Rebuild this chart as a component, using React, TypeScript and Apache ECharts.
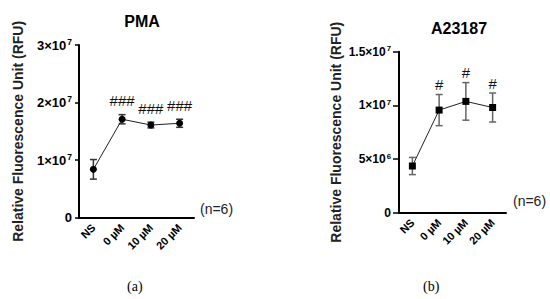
import React, { useEffect, useRef } from "react";
import * as echarts from "echarts";

const categories = ["NS", "0 µM", "10 µM", "20 µM"];

const pmaMean = [8.4e6, 1.71e7, 1.61e7, 1.64e7];
const pmaErr = [1.7e6, 0.8e6, 0.5e6, 0.7e6];
const pmaSig = ["", "###", "###", "###"];
const pmaTicks = [0, 1e7, 2e7, 3e7];

const aMean = [4.35e6, 9.56e6, 1.037e7, 9.8e6];
const aErr = [0.8e6, 1.45e6, 1.75e6, 1.35e6];
const aSig = ["", "#", "#", "#"];
const aTicks = [0, 5e6, 1e7, 1.5e7];

const FONT = "Liberation Sans, Arial, sans-serif";

function sciLabel(v: number): string {
  if (v === 0) return "{b|0}";
  const exp = Math.floor(Math.log10(v));
  const mant = +(v / Math.pow(10, exp)).toFixed(2);
  return `{b|${mant}×10}{s|${exp}}`;
}

function richSci(size: number) {
  return {
    b: { fontSize: size, fontWeight: "bold", color: "#000", fontFamily: FONT },
    s: { fontSize: size * 0.65, fontWeight: "bold", color: "#000", fontFamily: FONT, verticalAlign: "top", padding: [0, 0, Math.round(size * 0.5), 1] },
  };
}

function makeErrSeries(gridIdx: number, mean: number[], err: number[], sig: string[], color: string, offset: number) {
  return {
    type: "custom",
    xAxisIndex: gridIdx,
    yAxisIndex: gridIdx,
    z: 1,
    data: mean.map((m, i) => [i, m, err[i]]),
    renderItem: (params: any, api: any) => {
      const i = api.value(0);
      const m = api.value(1);
      const e = api.value(2);
      const s = sig[params.dataIndex];
      const top = api.coord([i, m + e]);
      const bot = api.coord([i, m - e]);
      const hw = 3.5;
      const st = { stroke: color, lineWidth: 1.5 };
      const children: any[] = [
        { type: "line", shape: { x1: top[0], y1: top[1], x2: bot[0], y2: bot[1] }, style: st },
        { type: "line", shape: { x1: top[0] - hw, y1: top[1], x2: top[0] + hw, y2: top[1] }, style: st },
        { type: "line", shape: { x1: bot[0] - hw, y1: bot[1], x2: bot[0] + hw, y2: bot[1] }, style: st },
      ];
      if (s) {
        children.push({
          type: "text",
          x: top[0],
          y: top[1] - offset,
          style: { text: s, align: "center", verticalAlign: "middle", fontSize: 15, fontFamily: FONT, fill: "#111" },
        });
      }
      return { type: "group", children };
    },
  };
}

function axisY(gridIdx: number, ticks: number[], labelSize: number, tickLen: number, margin: number) {
  return {
    type: "value",
    gridIndex: gridIdx,
    min: ticks[0],
    max: ticks[ticks.length - 1],
    interval: ticks[1] - ticks[0],
    name: "Relative Fluorescence Unit (RFU)",
    nameLocation: "middle",
    nameGap: gridIdx === 0 ? 54 : 56,
    nameTextStyle: { fontSize: 14, fontWeight: "bold", color: "#222", fontFamily: FONT },
    splitLine: { show: false },
    axisLine: { show: true, lineStyle: { color: "#000", width: 2 } },
    axisTick: { show: true, length: tickLen, lineStyle: { color: "#000", width: 1.5 } },
    axisLabel: { margin, formatter: (v: number) => sciLabel(v), rich: richSci(labelSize) },
  };
}

function axisX(gridIdx: number) {
  return {
    type: "category",
    gridIndex: gridIdx,
    data: categories,
    boundaryGap: true,
    axisLine: { lineStyle: { color: "#000", width: 2 } },
    axisTick: { alignWithLabel: true, length: 5, lineStyle: { color: "#000", width: 1.5 } },
    axisLabel: { rotate: 45, margin: 8, fontSize: 11, fontWeight: "bold", color: "#000", fontFamily: FONT, interval: 0 },
  };
}

export default function App() {
  const ref = useRef<HTMLDivElement>(null);
  useEffect(() => {
    document.body.style.margin = "0";
    const chart = echarts.init(ref.current!, undefined, { renderer: "svg" });
    chart.setOption({
      animation: false,
      backgroundColor: "#fff",
      title: [
        { text: "PMA", left: 137, top: 8, textAlign: "center", textStyle: { fontSize: 16, fontWeight: "bold", color: "#000", fontFamily: FONT } },
        { text: "A23187", left: 454, top: 15, textAlign: "center", textStyle: { fontSize: 16, fontWeight: "bold", color: "#000", fontFamily: FONT } },
      ],
      grid: [
        { left: 79, top: 45, width: 115, height: 172.7 },
        { left: 399, top: 51.7, width: 107, height: 161 },
      ],
      xAxis: [axisX(0), axisX(1)],
      yAxis: [axisY(0, pmaTicks, 13, 4, 7), axisY(1, aTicks, 12, 6, 8)],
      series: [
        makeErrSeries(0, pmaMean, pmaErr, pmaSig, "#333", 14),
        {
          type: "line",
          xAxisIndex: 0,
          yAxisIndex: 0,
          z: 3,
          data: pmaMean,
          symbol: "circle",
          symbolSize: 7,
          itemStyle: { color: "#000" },
          lineStyle: { color: "#222", width: 1 },
        },
        makeErrSeries(1, aMean, aErr, aSig, "#666", 10),
        {
          type: "line",
          xAxisIndex: 1,
          yAxisIndex: 1,
          z: 3,
          data: aMean,
          symbol: "rect",
          symbolSize: 7,
          itemStyle: { color: "#000" },
          lineStyle: { color: "#222", width: 1 },
        },
      ],
      graphic: [
        { type: "text", left: 200, top: 202, style: { text: "(n=6)", fontSize: 14, fontFamily: FONT, fill: "#222" } },
        { type: "text", left: 513, top: 194, style: { text: "(n=6)", fontSize: 14, fontFamily: FONT, fill: "#222" } },
        { type: "text", left: 127, top: 279, style: { text: "(a)", fontSize: 14, fontFamily: "Liberation Serif, Times New Roman, serif", fill: "#000" } },
        { type: "text", left: 423, top: 279, style: { text: "(b)", fontSize: 14, fontFamily: "Liberation Serif, Times New Roman, serif", fill: "#000" } },
      ],
    });
    return () => chart.dispose();
  }, []);
  return <div ref={ref} style={{ width: 550, height: 299, position: "absolute", left: 0, top: 0 }} />;
}
